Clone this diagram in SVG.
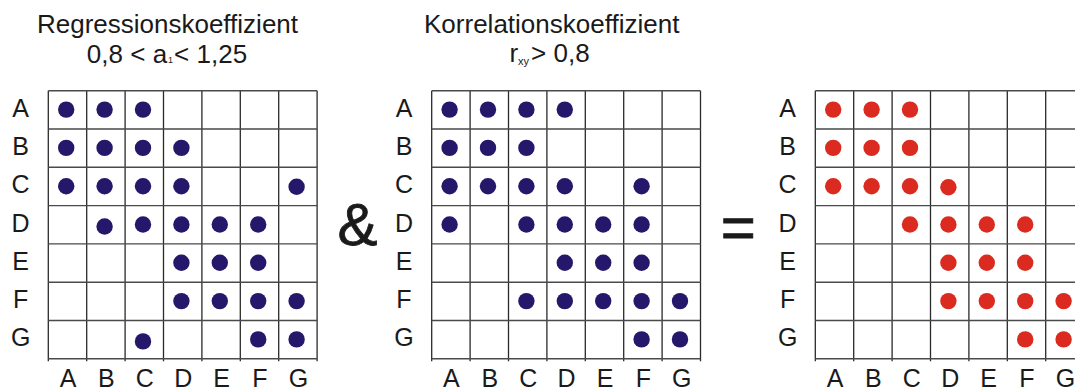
<svg xmlns="http://www.w3.org/2000/svg" width="1075" height="389" viewBox="0 0 1075 389">
<style>
text{font-family:"Liberation Sans",Arial,sans-serif;fill:#1a1a1a}
.t{font-size:26px;text-anchor:middle}
.l{font-size:25px;text-anchor:middle}
.op{text-anchor:middle;stroke:#1a1a1a;stroke-width:0.8}
.v{stroke:#2a2a2a;stroke-width:1.3}
.h{stroke:#4a4a4a;stroke-width:1.4}
.b{fill:#25186b}
.r{fill:#db2a20}
</style>
<defs>
<g id="grid">
<rect x="0" y="0" width="268.8" height="268.1" fill="#fff"/>
<path class="v" d="M0 0V270.5M38.4 0V270.5M76.8 0V270.5M115.2 0V270.5M153.6 0V270.5M192 0V270.5M230.4 0V270.5M268.8 0V270.5"/>
<path class="h" d="M0 0H268.8M0 38.3H268.8M0 76.6H268.8M0 114.9H268.8M0 153.2H268.8M0 191.5H268.8M0 229.8H268.8M0 268.1H268.8"/>
<text class="l" x="-27.7" y="26">A</text>
<text class="l" x="-27.7" y="64.3">B</text>
<text class="l" x="-27.7" y="102.6">C</text>
<text class="l" x="-27.7" y="140.9">D</text>
<text class="l" x="-27.7" y="179.2">E</text>
<text class="l" x="-27.7" y="217.5">F</text>
<text class="l" x="-27.7" y="255.8">G</text>
<text class="l" x="19.7" y="296">A</text>
<text class="l" x="58.1" y="296">B</text>
<text class="l" x="96.5" y="296">C</text>
<text class="l" x="134.9" y="296">D</text>
<text class="l" x="173.3" y="296">E</text>
<text class="l" x="211.7" y="296">F</text>
<text class="l" x="250.1" y="296">G</text>
</g>
</defs>

<g id="title-regression">
<text class="t" x="167.5" y="33.3">Regressionskoeffizient</text>
<text class="t" x="167" y="62.5">0,8 &lt; a<tspan font-size="9" dx="1" dy="0.5">1</tspan><tspan dy="-0.5" dx="1">&lt; 1,25</tspan></text>
</g>
<g id="title-korrelation">
<text class="t" x="551.7" y="33.3">Korrelationskoeffizient</text>
<text class="t" x="549.5" y="62">r<tspan font-size="11" dy="3">xy</tspan><tspan dy="-3" dx="2">&gt; 0,8</tspan></text>
</g>

<g id="matrix-regression" transform="translate(48.3 90.7)">
<use href="#grid"/>
<g class="b">
<circle cx="17.9" cy="18.9" r="8.2"/><circle cx="56.3" cy="18.9" r="8.2"/><circle cx="94.7" cy="18.9" r="8.2"/>
<circle cx="17.9" cy="57.2" r="8.2"/><circle cx="56.3" cy="57.2" r="8.2"/><circle cx="94.7" cy="57.2" r="8.2"/><circle cx="133.1" cy="57.2" r="8.2"/>
<circle cx="17.9" cy="95.5" r="8.2"/><circle cx="56.3" cy="95.5" r="8.2"/><circle cx="94.7" cy="95.5" r="8.2"/><circle cx="133.1" cy="95.5" r="8.2"/><circle cx="248.3" cy="96" r="8.2"/>
<circle cx="56.3" cy="135.8" r="8.2"/><circle cx="94.7" cy="133.8" r="8.2"/><circle cx="133.1" cy="133.8" r="8.2"/><circle cx="171.5" cy="133.8" r="8.2"/><circle cx="209.9" cy="133.8" r="8.2"/>
<circle cx="133.1" cy="172.1" r="8.2"/><circle cx="171.5" cy="172.1" r="8.2"/><circle cx="209.9" cy="172.1" r="8.2"/>
<circle cx="133.1" cy="210.4" r="8.2"/><circle cx="171.5" cy="210.4" r="8.2"/><circle cx="209.9" cy="210.4" r="8.2"/><circle cx="248.3" cy="210.4" r="8.2"/>
<circle cx="94.7" cy="250.7" r="8.2"/><circle cx="209.9" cy="248.7" r="8.2"/><circle cx="248.3" cy="248.7" r="8.2"/>
</g>
</g>

<g id="op-and">
<text class="op" x="357.5" y="245" font-size="60">&amp;</text>
</g>

<g id="matrix-korrelation" transform="translate(431.7 90.7)">
<use href="#grid"/>
<g class="b">
<circle cx="17.9" cy="18.9" r="8.2"/><circle cx="56.3" cy="18.9" r="8.2"/><circle cx="94.7" cy="18.9" r="8.2"/><circle cx="133.1" cy="18.9" r="8.2"/>
<circle cx="17.9" cy="57.2" r="8.2"/><circle cx="56.3" cy="57.2" r="8.2"/><circle cx="94.7" cy="57.2" r="8.2"/>
<circle cx="17.9" cy="95.5" r="8.2"/><circle cx="56.3" cy="95.5" r="8.2"/><circle cx="94.7" cy="95.5" r="8.2"/><circle cx="133.1" cy="95.5" r="8.2"/><circle cx="209.9" cy="95.5" r="8.2"/>
<circle cx="17.9" cy="133.8" r="8.2"/><circle cx="94.7" cy="133.8" r="8.2"/><circle cx="133.1" cy="133.8" r="8.2"/><circle cx="171.5" cy="133.8" r="8.2"/><circle cx="209.9" cy="133.8" r="8.2"/>
<circle cx="133.1" cy="172.1" r="8.2"/><circle cx="171.5" cy="172.1" r="8.2"/><circle cx="209.9" cy="172.1" r="8.2"/>
<circle cx="94.7" cy="210.4" r="8.2"/><circle cx="133.1" cy="210.4" r="8.2"/><circle cx="171.5" cy="210.4" r="8.2"/><circle cx="209.9" cy="210.4" r="8.2"/><circle cx="248.3" cy="210.4" r="8.2"/>
<circle cx="209.9" cy="248.7" r="8.2"/><circle cx="248.3" cy="248.7" r="8.2"/>
</g>
</g>

<g id="op-equals">
<text class="op" x="738.3" y="248" font-size="60" stroke-width="1.2">=</text>
</g>

<g id="matrix-result" transform="translate(815.3 90.7)">
<use href="#grid"/>
<g class="r">
<circle cx="17.9" cy="18.9" r="8.2"/><circle cx="56.3" cy="18.9" r="8.2"/><circle cx="94.7" cy="18.9" r="8.2"/>
<circle cx="17.9" cy="57.2" r="8.2"/><circle cx="56.3" cy="57.2" r="8.2"/><circle cx="94.7" cy="57.2" r="8.2"/>
<circle cx="17.9" cy="95.5" r="8.2"/><circle cx="56.3" cy="95.5" r="8.2"/><circle cx="94.7" cy="95.5" r="8.2"/><circle cx="133.1" cy="96.5" r="8.2"/>
<circle cx="94.7" cy="133.8" r="8.2"/><circle cx="133.1" cy="133.8" r="8.2"/><circle cx="171.5" cy="133.8" r="8.2"/><circle cx="209.9" cy="133.8" r="8.2"/>
<circle cx="133.1" cy="172.1" r="8.2"/><circle cx="171.5" cy="172.1" r="8.2"/><circle cx="209.9" cy="172.1" r="8.2"/>
<circle cx="133.1" cy="210.4" r="8.2"/><circle cx="171.5" cy="210.4" r="8.2"/><circle cx="209.9" cy="210.4" r="8.2"/><circle cx="248.3" cy="210.4" r="8.2"/>
<circle cx="209.9" cy="248.7" r="8.2"/><circle cx="248.3" cy="248.7" r="8.2"/>
</g>
</g>
</svg>
